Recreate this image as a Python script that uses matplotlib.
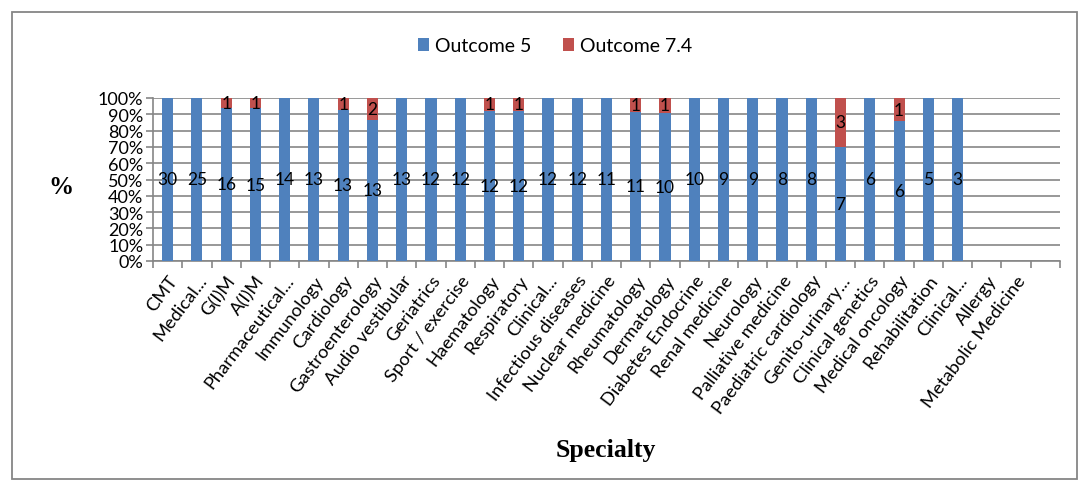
import matplotlib
matplotlib.use("Agg")
import matplotlib.pyplot as plt
from matplotlib.patches import Rectangle
import numpy as np

specialties = [
    "CMT", "Medical...", "G(I)M", "A(I)M", "Pharmaceutical...", "Immunology",
    "Cardiology", "Gastroenterology", "Audio vestibular", "Geriatrics",
    "Sport / exercise", "Haematology", "Respiratory", "Clinical...",
    "Infectious diseases", "Nuclear medicine", "Rheumatology", "Dermatology",
    "Diabetes Endocrine", "Renal medicine", "Neurology", "Palliative medicine",
    "Paediatric cardiology", "Genito-urinary...", "Clinical genetics",
    "Medical oncology", "Rehabilitation", "Clinical...", "Allergy",
    "Metabolic Medicine", "",
]
outcome_5 = [30, 25, 16, 15, 14, 13, 13, 13, 13, 12, 12, 12, 12, 12, 12, 11,
             11, 10, 10, 9, 9, 8, 8, 7, 6, 6, 5, 3, 0, 0, 0]
outcome_7_4 = [0, 0, 1, 1, 0, 0, 1, 2, 0, 0, 0, 1, 1, 0, 0, 0,
               1, 1, 0, 0, 0, 0, 0, 3, 0, 1, 0, 0, 0, 0, 0]

BLUE = "#4F81BD"
RED = "#C0504D"
GRID = "#868686"
FONT = ["Lato", "DejaVu Sans"]
SERIF = ["Liberation Serif", "DejaVu Serif"]

plt.rcParams["font.family"] = FONT

a = np.array(outcome_5, dtype=float)
b = np.array(outcome_7_4, dtype=float)
tot = a + b
safe = np.where(tot > 0, tot, 1)
pa = np.where(tot > 0, a / safe * 100, 0)
pb = np.where(tot > 0, b / safe * 100, 0)

fig = plt.figure(figsize=(10.9, 4.89), dpi=100)
ax = fig.add_axes([153 / 1090, 1 - 262 / 489, (1060 - 153) / 1090, (262 - 99) / 489])

x = np.arange(len(specialties))
w = 0.38
ax.bar(x, pa, width=w, color=BLUE, label="Outcome 5", zorder=3)
ax.bar(x, pb, width=w, bottom=pa, color=RED, label="Outcome 7.4", zorder=3)

for i in range(len(x)):
    if a[i] > 0:
        ax.text(x[i], pa[i] / 2, f"{int(a[i])}", ha="center", va="center",
                fontsize=12.5, zorder=4)
    if b[i] > 0:
        ax.text(x[i], pa[i] + pb[i] / 2, f"{int(b[i])}", ha="center", va="center",
                fontsize=12.5, zorder=4)

ax.set_xlim(-0.5, len(x) - 0.5)
ax.set_ylim(0, 100)
ax.set_yticks(np.arange(0, 101, 10))
ax.set_yticklabels([f"{v}%" for v in range(0, 101, 10)], fontsize=13)
ax.yaxis.grid(True, color=GRID, linewidth=1.2, zorder=0)

ax.set_xticks(x)
ax.set_xticklabels(specialties, rotation=53, ha="right", rotation_mode="anchor",
                   fontsize=13.2)
ax.tick_params(axis="x", length=0, pad=8)
ax.set_xticks(np.arange(-0.5, len(x), 1), minor=True)
ax.tick_params(axis="x", which="minor", length=5, color=GRID, width=1.2)
ax.tick_params(axis="y", length=5, color=GRID, width=1.2, pad=2)

for side in ["top", "right"]:
    ax.spines[side].set_visible(False)
for side in ["left", "bottom"]:
    ax.spines[side].set_color(GRID)
    ax.spines[side].set_linewidth(1.2)

fig.text(61 / 1090, 1 - 188 / 489, "%", family=SERIF, fontweight="bold",
         fontsize=18, ha="center", va="center")
fig.text(606 / 1090, 1 - 451 / 489, "Specialty", family=SERIF, fontweight="bold",
         fontsize=18.5, ha="center", va="center")

fig.legend(loc="center", bbox_to_anchor=(555 / 1090, 1 - 47 / 489), ncol=2,
           frameon=False, fontsize=14, handlelength=0.6, handleheight=0.6,
           handletextpad=0.3, columnspacing=1.6)

fig.patches.append(Rectangle((12 / 1090, 1 - 480 / 489), (1077 - 12) / 1090,
                             (480 - 13) / 489, transform=fig.transFigure,
                             fill=False, edgecolor=GRID, linewidth=1.3))

fig.savefig("out.png", dpi=100)
